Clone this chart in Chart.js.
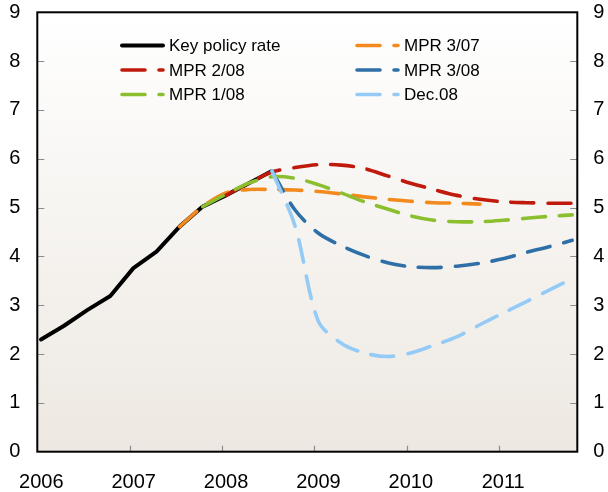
<!DOCTYPE html>
<html lang="en">
<head>
    <meta charset="UTF-8">
    <title>Key policy rate and MPR forecasts</title>
    <script src="https://cdn.jsdelivr.net/npm/chart.js"></script>
    <style>
        html, body { margin: 0; padding: 0; background: #fff; }
        #wrap { width: 608px; height: 492px; }
    </style>
</head>
<body>
<div id="wrap">
    <canvas id="rateChart" width="608" height="492"></canvas>
</div>

<script>
    // quarterly observations, 2006 Q1 .. 2011 Q4 (decimal year)
    const quarters = [2006.04, 2006.29, 2006.54, 2006.79, 2007.04, 2007.29, 2007.54, 2007.79,
                      2008.04, 2008.29, 2008.54, 2008.79, 2009.04, 2009.29, 2009.54, 2009.79,
                      2010.04, 2010.29, 2010.54, 2010.79, 2011.04, 2011.29, 2011.54, 2011.79];

    const keyPolicyRate = [2.3, 2.58, 2.9, 3.19, 3.76, 4.1, 4.61, 5.02, 5.25, 5.5, 5.75,
                           null, null, null, null, null, null, null, null, null, null, null, null, null];
    const mpr307 = [null, null, null, null, null, null, 4.61, 5.02, 5.3, 5.37, 5.37, 5.36,
                    5.33, 5.28, 5.22, 5.17, 5.13, 5.1, 5.09, 5.07, null, null, null, null];
    const mpr208 = [null, null, null, null, null, null, null, null, 5.25, 5.5, 5.73, 5.82,
                    5.88, 5.87, 5.8, 5.65, 5.5, 5.37, 5.25, 5.17, 5.12, 5.1, 5.09, 5.09];
    const mpr308 = [null, null, null, null, null, null, null, null, null, null, 5.75, 4.95,
                    4.48, 4.22, 4.02, 3.87, 3.79, 3.77, 3.8, 3.86, 3.95, 4.08, 4.2, 4.33];
    const mpr108 = [null, null, null, null, null, null, null, 5.02, 5.27, 5.5, 5.63, 5.6,
                    5.47, 5.3, 5.12, 4.97, 4.83, 4.74, 4.71, 4.71, 4.74, 4.78, 4.82, 4.85];
    const dec08 = [null, null, null, null, null, null, null, null, null, null, 5.75, 4.62,
                   2.68, 2.22, 2.02, 1.95, 2.02, 2.18, 2.35, 2.6, 2.84, 3.07, 3.31, 3.54];

    const seriesNames = ['Key policy rate', 'MPR 3/07', 'MPR 2/08', 'MPR 3/08', 'MPR 1/08', 'Dec.08'];
    const seriesValues = [keyPolicyRate, mpr307, mpr208, mpr308, mpr108, dec08];
    const seriesColors = ['#000000', '#f28a1e', '#c01a0c', '#2f6fa7', '#8cbf2f', '#94cbf6'];

    const yTicks = [0, 1, 2, 3, 4, 5, 6, 7, 8, 9];
    const xTicks = [2006, 2007, 2008, 2009, 2010, 2011];

    Chart.defaults.font.family = '"Liberation Sans", Arial, sans-serif';
    Chart.defaults.color = '#000';

    const DASH = [23, 14];

    const datasets = seriesNames.map((name, i) => ({
        label: name,
        data: quarters.map((q, j) => ({ x: q, y: seriesValues[i][j] })),
        borderColor: seriesColors[i],
        borderWidth: i === 0 ? 4 : 3.6,
        borderDash: i === 0 ? [] : DASH,
        borderCapStyle: 'round',
        borderJoinStyle: 'round',
        tension: i === 0 ? 0 : 0.3,
        pointRadius: 0,
        spanGaps: false,
        order: seriesNames.length - i
    }));

    // plot background, inner tick marks, frame and two-column legend
    const framePlugin = {
        id: 'frame',
        beforeDatasetsDraw(chart) {
            const { ctx, chartArea: a, scales } = chart;
            ctx.save();
            const g = ctx.createLinearGradient(0, a.top, 0, a.bottom);
            g.addColorStop(0, '#ffffff');
            g.addColorStop(1, '#ede8e1');
            ctx.fillStyle = g;
            ctx.fillRect(a.left, a.top, a.right - a.left, a.bottom - a.top);

            ctx.strokeStyle = '#8c8c8c';
            ctx.lineWidth = 1.2;
            ctx.beginPath();
            yTicks.slice(1, -1).forEach(v => {
                const y = Math.round(scales.y.getPixelForValue(v)) + 0.5;
                ctx.moveTo(a.left, y); ctx.lineTo(a.left + 7, y);
                ctx.moveTo(a.right, y); ctx.lineTo(a.right - 7, y);
            });
            xTicks.slice(1).forEach(v => {
                const x = Math.round(scales.x.getPixelForValue(v)) + 0.5;
                ctx.moveTo(x, a.bottom); ctx.lineTo(x, a.bottom - 6);
            });
            ctx.stroke();
            ctx.restore();
        },
        afterDraw(chart) {
            const { ctx, chartArea: a } = chart;
            ctx.save();
            ctx.strokeStyle = '#000';
            ctx.lineWidth = 2;
            ctx.strokeRect(a.left, a.top, a.right - a.left, a.bottom - a.top);

            // legend
            const cols = [120, 355];
            const rows = [45.5, 70, 94.5];
            ctx.font = '17px "Liberation Sans", Arial, sans-serif';
            ctx.textBaseline = 'middle';
            ctx.fillStyle = '#000';
            chart.data.datasets.forEach((ds, i) => {
                const x = cols[i % 2];
                const y = rows[Math.floor(i / 2)];
                ctx.strokeStyle = ds.borderColor;
                ctx.lineWidth = ds.borderWidth;
                ctx.lineCap = 'round';
                ctx.setLineDash(ds.borderDash);
                ctx.beginPath();
                ctx.moveTo(x + 2, y);
                ctx.lineTo(x + 43, y);
                ctx.stroke();
                ctx.setLineDash([]);
                ctx.fillText(ds.label, x + 49, y + 1);
            });
            ctx.restore();
        }
    };

    const ctx = document.getElementById('rateChart').getContext('2d');
    new Chart(ctx, {
        type: 'line',
        data: { datasets },
        options: {
            responsive: false,
            animation: false,
            devicePixelRatio: 1,
            layout: { padding: { top: 12.3, left: 0, right: 0, bottom: 0 } },
            plugins: {
                legend: { display: false },
                tooltip: { enabled: false }
            },
            scales: {
                x: {
                    type: 'linear',
                    min: 2006,
                    max: 2011.845,
                    grid: { display: false, drawTicks: false },
                    border: { display: false },
                    afterFit: s => {
                        s.height = 40.3;
                        s.paddingLeft = 0;
                        s.paddingRight = 0;
                    },
                    ticks: {
                        stepSize: 1,
                        includeBounds: false,
                        padding: 19,
                        labelOffset: 4,
                        maxRotation: 0,
                        font: { size: 20 },
                        callback: v => Number.isInteger(v) ? String(v) : ''
                    }
                },
                y: {
                    position: 'left',
                    min: 0,
                    max: 9,
                    grid: { display: false, drawTicks: false },
                    border: { display: false },
                    afterFit: s => {
                        s.width = 37.3;
                        s.paddingTop = 0;
                        s.paddingBottom = 0;
                    },
                    ticks: { stepSize: 1, padding: 17, font: { size: 20 } }
                },
                y2: {
                    position: 'right',
                    min: 0,
                    max: 9,
                    grid: { display: false, drawTicks: false },
                    border: { display: false },
                    afterFit: s => {
                        s.width = 30.7;
                        s.paddingTop = 0;
                        s.paddingBottom = 0;
                    },
                    ticks: { stepSize: 1, padding: 16, font: { size: 20 } }
                }
            }
        },
        plugins: [framePlugin]
    });
</script>
</body>
</html>
